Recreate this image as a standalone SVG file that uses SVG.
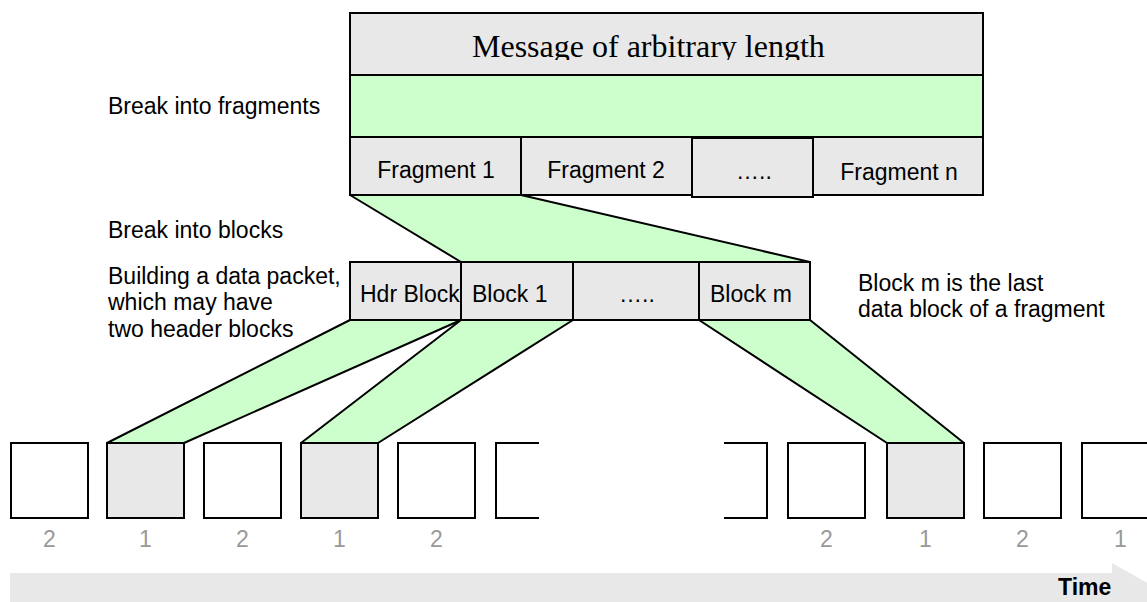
<svg xmlns="http://www.w3.org/2000/svg" width="1147" height="602" viewBox="0 0 1147 602">
<style>
.box{fill:#e8e8e8;stroke:#000;stroke-width:2}
.wbox{fill:#fff;stroke:#000;stroke-width:2}
.grn{fill:#ccffcc;stroke:#000;stroke-width:2;stroke-linejoin:round}
.t{font-family:"Liberation Sans",Arial,sans-serif;font-size:23px;fill:#000}
.c{text-anchor:middle}
.d{font-family:"Liberation Sans",Arial,sans-serif;font-size:23px;fill:#999;text-anchor:middle}
.line{fill:none;stroke:#000;stroke-width:2}
</style>
<defs>
<clipPath id="msgclip"><rect x="350" y="13" width="633" height="47"/></clipPath>
</defs>
<rect width="1147" height="602" fill="#fff"/>
<g id="time-arrow">
<polygon points="10,573 1112,573 1112,563 1165,593 1112,623 1112,613 10,613" fill="#e8e8e8"/>
<text x="1058" y="595" style="font-family:'Liberation Sans',Arial,sans-serif;font-size:23px;font-weight:bold">Time</text>
</g>
<g id="connectors">
<polygon class="grn" points="350,195 521,195 810,262 461,262"/>
<polygon class="grn" points="350,320 461,320 184,443 107,443"/>
<polygon class="grn" points="461,320 573,320 378,443 301,443"/>
<polygon class="grn" points="699,320 810,320 964,443 887,443"/>
</g>
<g id="message">
<rect class="box" x="350" y="13" width="633" height="62"/>
<text clip-path="url(#msgclip)" x="472" y="57" style="font-family:'Liberation Serif','Times New Roman',serif;font-size:32px">Message of arbitrary length</text>
</g>
<g id="green-band">
<rect x="350" y="75" width="633" height="62" fill="#ccffcc" stroke="#000" stroke-width="2"/>
</g>
<g id="fragment-1"><rect class="box" x="350" y="137" width="171" height="58"/><text class="t c" x="436" y="178">Fragment 1</text></g>
<g id="fragment-2"><rect class="box" x="521" y="137" width="171" height="58"/><text class="t c" x="606" y="178">Fragment 2</text></g>
<g id="fragment-dots"><rect class="box" x="692" y="138" width="121" height="59"/><text class="t c" x="754" y="179">…..</text></g>
<g id="fragment-n"><rect class="box" x="813" y="137" width="170" height="58"/><text class="t c" x="899" y="180">Fragment n</text></g>
<g id="hdr-block"><rect class="box" x="350" y="262" width="111" height="58"/><text class="t" x="360" y="302">Hdr Block</text></g>
<g id="block-1"><rect class="box" x="461" y="262" width="112" height="58"/><text class="t" x="472" y="302">Block 1</text></g>
<g id="block-dots"><rect class="box" x="573" y="262" width="126" height="58"/><text class="t c" x="637" y="302">…..</text></g>
<g id="block-m"><rect class="box" x="699" y="262" width="111" height="58"/><text class="t" x="710" y="302">Block m</text></g>
<g id="labels">
<text class="t" x="108" y="114">Break into fragments</text>
<text class="t" x="108" y="238">Break into blocks</text>
<text class="t" x="108" y="284">Building a data packet,</text>
<text class="t" x="108" y="310">which may have</text>
<text class="t" x="108" y="337">two header blocks</text>
<text class="t" x="858" y="291">Block m is the last</text>
<text class="t" x="858" y="317">data block of a fragment</text>
</g>
<g id="slot-1"><rect class="wbox" x="11" y="443" width="77" height="75"/><text class="d" x="49.5" y="547">2</text></g>
<g id="slot-2"><rect class="box" x="107" y="443" width="77" height="75"/><text class="d" x="145.5" y="547">1</text></g>
<g id="slot-3"><rect class="wbox" x="204" y="443" width="77" height="75"/><text class="d" x="242.5" y="547">2</text></g>
<g id="slot-4"><rect class="box" x="301" y="443" width="77" height="75"/><text class="d" x="339.5" y="547">1</text></g>
<g id="slot-5"><rect class="wbox" x="398" y="443" width="77" height="75"/><text class="d" x="436.5" y="547">2</text></g>
<g id="slot-open"><polyline class="line" points="539,443 496,443 496,518 539,518"/></g>
<g id="slot-close"><polyline class="line" points="724,443 767,443 767,518 724,518"/></g>
<g id="slot-6"><rect class="wbox" x="788" y="443" width="77" height="75"/><text class="d" x="826.5" y="547">2</text></g>
<g id="slot-7"><rect class="box" x="887" y="443" width="77" height="75"/><text class="d" x="925.5" y="547">1</text></g>
<g id="slot-8"><rect class="wbox" x="984" y="443" width="77" height="75"/><text class="d" x="1022.5" y="547">2</text></g>
<g id="slot-9"><rect class="wbox" x="1082" y="443" width="77" height="75"/><text class="d" x="1120.5" y="547">1</text></g>
</svg>
